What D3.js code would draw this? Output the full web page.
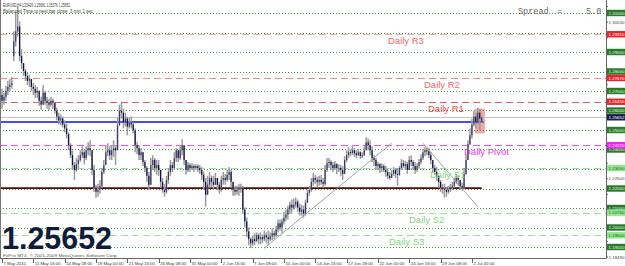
<!DOCTYPE html>
<html lang="en">
<head>
<meta charset="UTF-8">
<title>EURUSD,H4</title>
<script src="https://d3js.org/d3.v7.min.js"></script>
<style>
  body { margin: 0; background: #fff; }
  svg { display: block; font-family: Arial, "Liberation Sans", sans-serif; }
</style>
</head>
<body>
<svg id="chart"></svg>
<script>
// H4 bars, 7 May 2010 00:00 .. 2 Jul 2010 20:00
const closes = [
  1.2650, 1.2670, 1.2701, 1.2721, 1.2731, 1.2741, 1.2955, 1.3006, 1.3031, 1.2879,
  1.2843, 1.2803, 1.2777, 1.2752, 1.2762, 1.2721, 1.2711, 1.2691, 1.2701, 1.2650,
  1.2630, 1.2691, 1.2650, 1.2640, 1.2630, 1.2650, 1.2640, 1.2599, 1.2569, 1.2549,
  1.2559, 1.2528, 1.2508, 1.2478, 1.2422, 1.2371, 1.2320, 1.2295, 1.2325, 1.2346,
  1.2371, 1.2386, 1.2356, 1.2396, 1.2407, 1.2396, 1.2295, 1.2204, 1.2183, 1.2193,
  1.2214, 1.2285, 1.2320, 1.2386, 1.2396, 1.2371, 1.2396, 1.2407, 1.2396, 1.2523,
  1.2599, 1.2589, 1.2538, 1.2559, 1.2518, 1.2538, 1.2528, 1.2498, 1.2422, 1.2407,
  1.2371, 1.2386, 1.2336, 1.2305, 1.2265, 1.2219, 1.2320, 1.2346, 1.2305, 1.2320,
  1.2295, 1.2234, 1.2193, 1.2183, 1.2244, 1.2285, 1.2320, 1.2305, 1.2356, 1.2396,
  1.2356, 1.2396, 1.2422, 1.2346, 1.2295, 1.2320, 1.2305, 1.2315, 1.2305, 1.2315,
  1.2305, 1.2295, 1.2270, 1.2234, 1.2168, 1.2219, 1.2254, 1.2234, 1.2219, 1.2254,
  1.2219, 1.2193, 1.2244, 1.2254, 1.2244, 1.2270, 1.2285, 1.2234, 1.2193, 1.2183,
  1.2193, 1.2204, 1.2204, 1.2092, 1.2031, 1.1980, 1.1940, 1.1919, 1.1940, 1.1930,
  1.1960, 1.1940, 1.1950, 1.1940, 1.1960, 1.1950, 1.1940, 1.1955, 1.1970, 1.1960,
  1.1990, 1.2021, 1.2000, 1.2031, 1.2051, 1.2066, 1.2092, 1.2117, 1.2102, 1.2117,
  1.2132, 1.2102, 1.2081, 1.2092, 1.2071, 1.2127, 1.2178, 1.2193, 1.2234, 1.2254,
  1.2244, 1.2234, 1.2244, 1.2234, 1.2224, 1.2295, 1.2330, 1.2336, 1.2320, 1.2305,
  1.2325, 1.2305, 1.2305, 1.2295, 1.2275, 1.2346, 1.2371, 1.2386, 1.2381, 1.2396,
  1.2381, 1.2371, 1.2386, 1.2366, 1.2371, 1.2396, 1.2437, 1.2422, 1.2396, 1.2356,
  1.2346, 1.2315, 1.2325, 1.2305, 1.2315, 1.2295, 1.2285, 1.2265, 1.2254, 1.2275,
  1.2295, 1.2275, 1.2270, 1.2305, 1.2330, 1.2315, 1.2325, 1.2295, 1.2346, 1.2336,
  1.2315, 1.2295, 1.2315, 1.2336, 1.2356, 1.2386, 1.2396, 1.2391, 1.2371, 1.2346,
  1.2305, 1.2285, 1.2265, 1.2234, 1.2204, 1.2199, 1.2193, 1.2183, 1.2193, 1.2204,
  1.2214, 1.2234, 1.2254, 1.2244, 1.2214, 1.2204, 1.2275, 1.2346, 1.2427, 1.2473,
  1.2528, 1.2569, 1.2538, 1.2589, 1.2559, 1.25652
];
const highs = [
  1.2711, 1.2691, 1.2726, 1.2752, 1.2762, 1.2772, 1.3006, 1.3107, 1.3133, 1.3057,
  1.2914, 1.2843, 1.2813, 1.2792, 1.2782, 1.2762, 1.2741, 1.2731, 1.2721, 1.2691,
  1.2670, 1.2731, 1.2701, 1.2670, 1.2660, 1.2670, 1.2660, 1.2635, 1.2614, 1.2589,
  1.2579, 1.2569, 1.2549, 1.2533, 1.2488, 1.2432, 1.2396, 1.2336, 1.2356, 1.2371,
  1.2396, 1.2417, 1.2396, 1.2417, 1.2437, 1.2447, 1.2386, 1.2320, 1.2219, 1.2224,
  1.2244, 1.2305, 1.2346, 1.2422, 1.2432, 1.2417, 1.2422, 1.2447, 1.2422, 1.2564,
  1.2630, 1.2645, 1.2609, 1.2589, 1.2569, 1.2564, 1.2569, 1.2538, 1.2508, 1.2437,
  1.2422, 1.2407, 1.2386, 1.2346, 1.2315, 1.2285, 1.2356, 1.2371, 1.2356, 1.2346,
  1.2346, 1.2295, 1.2254, 1.2224, 1.2265, 1.2305, 1.2346, 1.2336, 1.2386, 1.2407,
  1.2396, 1.2417, 1.2452, 1.2407, 1.2346, 1.2336, 1.2330, 1.2330, 1.2325, 1.2325,
  1.2325, 1.2320, 1.2310, 1.2285, 1.2254, 1.2265, 1.2285, 1.2265, 1.2265, 1.2280,
  1.2254, 1.2234, 1.2265, 1.2285, 1.2275, 1.2295, 1.2310, 1.2295, 1.2234, 1.2214,
  1.2214, 1.2224, 1.2224, 1.2214, 1.2102, 1.2051, 1.2000, 1.1950, 1.1960, 1.1970,
  1.1975, 1.1970, 1.1975, 1.1965, 1.1985, 1.1975, 1.1985, 1.1975, 1.1995, 1.1985,
  1.2010, 1.2041, 1.2041, 1.2046, 1.2081, 1.2092, 1.2112, 1.2132, 1.2143, 1.2148,
  1.2153, 1.2143, 1.2122, 1.2117, 1.2112, 1.2143, 1.2193, 1.2214, 1.2254, 1.2280,
  1.2270, 1.2260, 1.2265, 1.2270, 1.2254, 1.2320, 1.2356, 1.2356, 1.2346, 1.2336,
  1.2341, 1.2330, 1.2325, 1.2320, 1.2315, 1.2366, 1.2396, 1.2412, 1.2402, 1.2417,
  1.2407, 1.2396, 1.2402, 1.2391, 1.2386, 1.2417, 1.2463, 1.2457, 1.2447, 1.2417,
  1.2371, 1.2356, 1.2336, 1.2330, 1.2330, 1.2325, 1.2315, 1.2295, 1.2285, 1.2295,
  1.2310, 1.2305, 1.2305, 1.2315, 1.2351, 1.2346, 1.2341, 1.2336, 1.2366, 1.2371,
  1.2346, 1.2336, 1.2330, 1.2351, 1.2376, 1.2402, 1.2412, 1.2412, 1.2407, 1.2386,
  1.2346, 1.2320, 1.2310, 1.2265, 1.2244, 1.2224, 1.2224, 1.2209, 1.2214, 1.2224,
  1.2234, 1.2254, 1.2275, 1.2265, 1.2239, 1.2229, 1.2305, 1.2371, 1.2447, 1.2508,
  1.2559, 1.2599, 1.2589, 1.2614, 1.2609, 1.25681
];
const lows = [
  1.2609, 1.2630, 1.2650, 1.2680, 1.2701, 1.2711, 1.2853, 1.2929, 1.2980, 1.2853,
  1.2813, 1.2777, 1.2752, 1.2731, 1.2721, 1.2701, 1.2680, 1.2665, 1.2665, 1.2625,
  1.2604, 1.2650, 1.2630, 1.2609, 1.2599, 1.2620, 1.2609, 1.2584, 1.2549, 1.2528,
  1.2523, 1.2513, 1.2488, 1.2457, 1.2396, 1.2356, 1.2295, 1.2244, 1.2285, 1.2305,
  1.2336, 1.2356, 1.2325, 1.2346, 1.2371, 1.2366, 1.2270, 1.2183, 1.2153, 1.2158,
  1.2173, 1.2204, 1.2275, 1.2320, 1.2366, 1.2346, 1.2346, 1.2361, 1.2320, 1.2396,
  1.2523, 1.2559, 1.2508, 1.2518, 1.2473, 1.2508, 1.2508, 1.2483, 1.2386, 1.2376,
  1.2346, 1.2346, 1.2315, 1.2285, 1.2234, 1.2193, 1.2244, 1.2295, 1.2285, 1.2270,
  1.2265, 1.2204, 1.2178, 1.2158, 1.2173, 1.2224, 1.2265, 1.2285, 1.2295, 1.2336,
  1.2336, 1.2346, 1.2371, 1.2320, 1.2270, 1.2285, 1.2285, 1.2295, 1.2285, 1.2295,
  1.2285, 1.2275, 1.2244, 1.2193, 1.2107, 1.2168, 1.2204, 1.2209, 1.2193, 1.2219,
  1.2193, 1.2173, 1.2183, 1.2219, 1.2219, 1.2234, 1.2244, 1.2204, 1.2163, 1.2163,
  1.2168, 1.2163, 1.2178, 1.2071, 1.2000, 1.1950, 1.1909, 1.1894, 1.1904, 1.1909,
  1.1925, 1.1914, 1.1914, 1.1919, 1.1930, 1.1919, 1.1909, 1.1930, 1.1935, 1.1940,
  1.1950, 1.1975, 1.1985, 1.1970, 1.2016, 1.2031, 1.2041, 1.2071, 1.2076, 1.2092,
  1.2102, 1.2081, 1.2061, 1.2061, 1.2051, 1.2061, 1.2127, 1.2163, 1.2183, 1.2214,
  1.2224, 1.2204, 1.2214, 1.2219, 1.2204, 1.2214, 1.2285, 1.2305, 1.2295, 1.2285,
  1.2295, 1.2275, 1.2285, 1.2265, 1.2244, 1.2295, 1.2336, 1.2356, 1.2366, 1.2371,
  1.2361, 1.2356, 1.2366, 1.2351, 1.2356, 1.2366, 1.2396, 1.2396, 1.2371, 1.2336,
  1.2315, 1.2295, 1.2295, 1.2280, 1.2285, 1.2285, 1.2260, 1.2249, 1.2244, 1.2254,
  1.2265, 1.2254, 1.2214, 1.2265, 1.2295, 1.2305, 1.2295, 1.2275, 1.2305, 1.2315,
  1.2295, 1.2275, 1.2285, 1.2305, 1.2325, 1.2346, 1.2366, 1.2371, 1.2356, 1.2325,
  1.2285, 1.2270, 1.2239, 1.2204, 1.2183, 1.2173, 1.2153, 1.2158, 1.2173, 1.2183,
  1.2193, 1.2204, 1.2224, 1.2214, 1.2193, 1.2188, 1.2199, 1.2270, 1.2346, 1.2422,
  1.2457, 1.2518, 1.2508, 1.2528, 1.2498, 1.25376
];
// bars that open away from the previous close (weekend gaps, last bar)
const gapOpens = { 0: 1.2680, 6: 1.2879, 245: 1.25426 };

const timeLabels = ["7 May 2010", "11 May 16:00", "14 May 08:00", "19 May 00:00",
  "21 May 16:00", "26 May 08:00", "31 May 00:00", "2 Jun 16:00", "7 Jun 08:00",
  "10 Jun 00:00", "14 Jun 16:00", "17 Jun 08:00", "22 Jun 00:00", "24 Jun 16:00",
  "29 Jun 08:00", "2 Jul 00:00"];
const barsPerLabel = 16;

const priceTicks = [1.31330, 1.30530, 1.29720, 1.28920, 1.28120, 1.27320, 1.26510,
  1.25710, 1.24910, 1.24100, 1.23300, 1.22500, 1.21700, 1.20890, 1.20090, 1.19290, 1.18490];
const roundLevels = [1.31, 1.30, 1.29, 1.28, 1.27, 1.26, 1.25, 1.24, 1.23, 1.22, 1.21, 1.20, 1.19];

const pivotNames = ["Daily R3", "Daily R2", "Daily R1", "Daily Pivot", "Daily S1", "Daily S2", "Daily S3"];
const pivotValues = [1.2991, 1.2767, 1.2645, 1.2422, 1.2305, 1.2076, 1.1960];

const bidPrice = 1.25652;
const blueLine = 1.2541;
const supportLine = 1.2202;
const lineEndBar = 246;
// trendlines: [bar, price] -> [bar, price]
const trendLines = [
  [[134, 1.1894], [199, 1.2432]],
  [[215, 1.2432], [243, 1.2107]]
];
// shaded box around the last bars
const zoneBars = [241.6, 246.6];
const zonePrices = [1.2609, 1.2483];

const header1 = "EURUSD,H4  1.25426 1.25681 1.25376 1.25652";
const header2 = "Balanced Time to next bar close: 3 min 1 sec";
const copyright = "FxPro MT4, \u00A9 2001-2009 MetaQuotes Software Corp.";

// ---- layout ----
const W = 625, H = 266;
const plotRight = 606, plotBottom = 258;

const svg = d3.select("#chart").attr("width", W).attr("height", H);

const x = d3.scaleLinear().domain([0, 245]).range([2, 481.7]);
const y = d3.scaleLinear().domain([1.19, 1.31]).range([247, 13]);

svg.append("rect").attr("width", W).attr("height", H).attr("fill", "#fff");

const plot = svg.append("g");
plot.append("defs").append("clipPath").attr("id", "clip")
  .append("rect").attr("x", 0).attr("y", 0).attr("width", plotRight).attr("height", plotBottom);
const inner = plot.append("g").attr("clip-path", "url(#clip)");

// shaded zone
inner.append("rect")
  .attr("x", x(zoneBars[0])).attr("width", x(zoneBars[1]) - x(zoneBars[0]))
  .attr("y", y(zonePrices[0])).attr("height", y(zonePrices[1]) - y(zonePrices[0]))
  .attr("fill", "#f6a6a6");

// dotted round levels
inner.selectAll("line.round").data(roundLevels).join("line")
  .attr("class", "round")
  .attr("x1", 0).attr("x2", plotRight)
  .attr("y1", d => Math.round(y(d)) + 0.5).attr("y2", d => Math.round(y(d)) + 0.5)
  .attr("stroke", "#3f9a3f").attr("stroke-width", 1).attr("stroke-dasharray", "1,2");

// pivot dashed levels
const pivotColors = ["#f6a8a8", "#f08a8a", "#ec5a5a", "#f050f0", "#98e498", "#98e498", "#98e498"];
const textColors = ["#f26a6a", "#f26a6a", "#f04848", "#e040e0", "#7fd67f", "#7fd67f", "#7fd67f"];
inner.selectAll("line.pivot").data(pivotValues).join("line")
  .attr("class", "pivot")
  .attr("x1", 0).attr("x2", plotRight)
  .attr("y1", d => Math.round(y(d)) + 0.5).attr("y2", d => Math.round(y(d)) + 0.5)
  .attr("stroke", (d, i) => pivotColors[i]).attr("stroke-width", 1.2)
  .attr("stroke-dasharray", "7,4");

// bid line
inner.append("line")
  .attr("x1", 0).attr("x2", plotRight)
  .attr("y1", Math.round(y(bidPrice)) + 0.5).attr("y2", Math.round(y(bidPrice)) + 0.5)
  .attr("stroke", "#c4c4c4");

// blue + support horizontals
inner.append("line")
  .attr("x1", 0).attr("x2", x(lineEndBar))
  .attr("y1", y(blueLine)).attr("y2", y(blueLine))
  .attr("stroke", "#4b4bf5").attr("stroke-width", 2);
inner.append("line")
  .attr("x1", 0).attr("x2", x(lineEndBar - 1))
  .attr("y1", y(supportLine)).attr("y2", y(supportLine))
  .attr("stroke", "#5a0808").attr("stroke-width", 1.8);

// candles
const bars = closes.map((c, i) => {
  const o = gapOpens[i] !== undefined ? gapOpens[i] : closes[i - 1];
  return { i, o, c, h: Math.max(highs[i], o, c), l: Math.min(lows[i], o, c) };
});
inner.selectAll("line.wick").data(bars).join("line")
  .attr("class", "wick")
  .attr("x1", d => x(d.i)).attr("x2", d => x(d.i))
  .attr("y1", d => y(d.h)).attr("y2", d => y(d.l))
  .attr("stroke", "#9a9a9a").attr("stroke-width", 1.5);
inner.selectAll("rect.body").data(bars).join("rect")
  .attr("class", "body")
  .attr("x", d => x(d.i) - 0.6).attr("width", 1.2)
  .attr("y", d => y(Math.max(d.o, d.c)))
  .attr("height", d => Math.max(1, Math.abs(y(d.o) - y(d.c))))
  .attr("fill", d => d.c >= d.o ? "#3a3a6a" : "#0e0e48");

// trendlines
inner.selectAll("line.trend").data(trendLines).join("line")
  .attr("class", "trend")
  .attr("x1", d => x(d[0][0])).attr("y1", d => y(d[0][1]))
  .attr("x2", d => x(d[1][0])).attr("y2", d => y(d[1][1]))
  .attr("stroke", "#8a8a8a").attr("stroke-width", 0.8);

// pivot labels
const pivotLabelX = [388, 424, 428, 464, 430, 409, 389];
inner.selectAll("text.pivot").data(pivotNames).join("text")
  .attr("class", "pivot")
  .attr("x", (d, i) => pivotLabelX[i])
  .attr("y", (d, i) => y(pivotValues[i]) + 10)
  .attr("font-size", 9.5)
  .attr("fill", (d, i) => textColors[i])
  .text(d => d);

// header lines
inner.append("text").attr("x", 3).attr("y", 6.5).attr("font-size", 5)
  .attr("fill", "#333").attr("textLength", 67).attr("lengthAdjust", "spacingAndGlyphs").text(header1);
inner.append("text").attr("x", 3).attr("y", 12.5).attr("font-size", 5)
  .attr("fill", "#3d4a2a").attr("textLength", 90).attr("lengthAdjust", "spacingAndGlyphs").text(header2);

// spread readout
const mono = "'Liberation Mono', 'DejaVu Sans Mono', monospace";
[["Spread", 518], ["=", 557], ["5.0", 586]].forEach(([t, px]) => {
  inner.append("text").attr("x", px).attr("y", 14).attr("font-size", 8.5)
    .attr("font-family", mono).attr("fill", "#666").text(t);
});

// big price
inner.append("text").attr("x", 2).attr("y", 249)
  .attr("font-size", 31).attr("font-weight", "bold").attr("fill", "#0f1c3c")
  .attr("textLength", 110).attr("lengthAdjust", "spacingAndGlyphs")
  .text(bidPrice.toFixed(5));
inner.append("text").attr("x", 3).attr("y", 256.8).attr("font-size", 4.3)
  .attr("fill", "#555").attr("textLength", 115).attr("lengthAdjust", "spacingAndGlyphs")
  .text(copyright);

// frame
svg.append("line").attr("x1", 0.5).attr("x2", 0.5).attr("y1", 0).attr("y2", plotBottom).attr("stroke", "#777");
svg.append("line").attr("x1", plotRight + 0.5).attr("x2", plotRight + 0.5).attr("y1", 0).attr("y2", plotBottom + 0.5).attr("stroke", "#666");
svg.append("line").attr("x1", 0).attr("x2", plotRight + 0.5).attr("y1", plotBottom + 0.5).attr("y2", plotBottom + 0.5).attr("stroke", "#666");

// bottom time axis
const tickBars = timeLabels.map((d, i) => i * barsPerLabel);
const xAxis = svg.append("g");
xAxis.selectAll("line").data(tickBars).join("line")
  .attr("x1", d => Math.round(x(d)) + 0.5).attr("x2", d => Math.round(x(d)) + 0.5)
  .attr("y1", plotBottom).attr("y2", plotBottom + 5)
  .attr("stroke", "#666");
xAxis.selectAll("text").data(timeLabels).join("text")
  .attr("x", (d, i) => x(tickBars[i]) + 1.5).attr("y", 264.5)
  .attr("font-size", 4.3).attr("fill", "#333").text(d => d);

// right price axis: coloured boxes sit on top of the plain tick labels
const boxHalf = 3.2;
const shownRound = roundLevels.filter(r => pivotValues.every(p => Math.abs(y(p) - y(r)) > 4));
const boxLevels = shownRound.concat(pivotValues, [bidPrice]);
const freeTicks = priceTicks.filter(t => boxLevels.every(b => Math.abs(y(b) - y(t)) > 6.5));
const yAxis = svg.append("g");
yAxis.selectAll("line.tick").data(priceTicks).join("line")
  .attr("class", "tick")
  .attr("x1", plotRight).attr("x2", plotRight + 2)
  .attr("y1", d => y(d)).attr("y2", d => y(d)).attr("stroke", "#666");
yAxis.selectAll("text.tick").data(freeTicks).join("text")
  .attr("class", "tick")
  .attr("x", plotRight + 2.5).attr("y", d => y(d) + 1.6)
  .attr("font-size", 4.4).attr("fill", "#444")
  .attr("textLength", 16).attr("lengthAdjust", "spacingAndGlyphs")
  .text(d => d.toFixed(5));

function priceBox(value, fill, color) {
  const cy = y(value);
  yAxis.append("rect").attr("x", plotRight + 1).attr("y", cy - boxHalf)
    .attr("width", W - plotRight - 1).attr("height", boxHalf * 2).attr("fill", fill);
  yAxis.append("text").attr("x", plotRight + 2.5).attr("y", cy + 1.6)
    .attr("font-size", 4.4).attr("fill", color)
    .attr("textLength", 16).attr("lengthAdjust", "spacingAndGlyphs")
    .text(value.toFixed(5));
}
shownRound.forEach(v => priceBox(v, "#2a7a2a", "#e8f4e8"));
const boxFill = ["#e8232a", "#e8232a", "#e8232a", "#ff1cff", "#8fe68f", "#8fe68f", "#8fe68f"];
pivotValues.forEach((v, i) => priceBox(v, boxFill[i], i < 4 ? "#fff" : "#2a6a2a"));
priceBox(bidPrice, "#1a1a4e", "#fff");
</script>
</body>
</html>
